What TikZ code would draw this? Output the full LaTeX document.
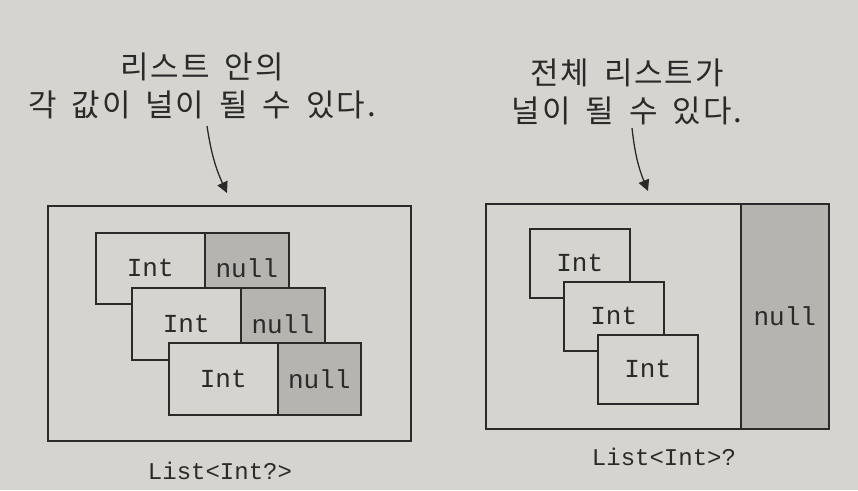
\documentclass[tikz,border=0pt]{standalone}
\usepackage{fontspec}
\newfontfamily\kr[LetterSpace=6,WordSpace=1.7]{Noto Sans CJK KR}
\setmonofont{Liberation Mono}
\usetikzlibrary{arrows.meta}
\definecolor{paper}{HTML}{D6D4CF}
\definecolor{nullgray}{HTML}{B6B4AF}
\definecolor{ink}{HTML}{2A2A2A}
\tikzset{
  box/.style={draw=ink, line width=1.5pt, rectangle, inner sep=0pt, anchor=north west},
  intbox/.style={box, fill=paper, font=\fontsize{26}{26}\selectfont\ttfamily, text=ink},
  nullbox/.style={box, fill=nullgray, font=\fontsize{26}{26}\selectfont\ttfamily, text=ink},
  outer/.style={box, fill=none},
  krlabel/.style={font=\kr\fontsize{31}{38}\selectfont, text=ink, align=center},
  codelabel/.style={font=\fontsize{24}{24}\selectfont\ttfamily, text=ink},
  pointer/.style={draw=ink, line width=1.3pt, -{Triangle[length=11pt,width=11pt]}}
}
\begin{document}
\begin{tikzpicture}[x=1pt,y=-1pt]
\fill[paper] (0,0) rectangle (858,490);
\useasboundingbox (0,0) rectangle (858,490);

% ---------- left panel ----------
\node[outer, minimum width=363pt, minimum height=235pt] (lout) at (47,205) {};
% row 1
\node[intbox, minimum width=109pt, minimum height=71pt] (i1) at (95,232) {Int};
\node[nullbox, minimum width=84pt, minimum height=71pt] (n1) at (204,232) {null};
% row 2
\node[intbox, minimum width=109pt, minimum height=72pt] (i2) at (131,287) {Int};
\node[nullbox, minimum width=84pt, minimum height=72pt] (n2) at (240,287) {null};
% row 3
\node[intbox, minimum width=109pt, minimum height=72pt] (i3) at (168,342) {Int};
\node[nullbox, minimum width=83pt, minimum height=72pt] (n3) at (277,342) {null};

\node[krlabel] (ltxt) at (202,86) {리스트 안의\\각 값이 널이 될 수 있다.};
\node[codelabel] (lcap) at (220,471) {List<Int?>};
\coordinate (la1) at (207,126);
\coordinate (la2) at (227,193);
\draw[pointer] (la1) to[bend right=8] (la2);

% ---------- right panel ----------
\node[outer, minimum width=343pt, minimum height=225pt] (rout) at (485,203) {};
\node[nullbox, minimum width=88pt, minimum height=225pt] (rn) at (740,203) {null};
\node[intbox, minimum width=100pt, minimum height=69pt] (r1) at (529,228) {Int};
\node[intbox, minimum width=100pt, minimum height=69pt] (r2) at (563,281) {Int};
\node[intbox, minimum width=100pt, minimum height=69pt] (r3) at (597,334) {Int};

\node[krlabel] (rtxt) at (627,92) {전체 리스트가\\널이 될 수 있다.};
\node[codelabel] (rcap) at (664,457) {List<Int>?};
\coordinate (ra1) at (632,128);
\coordinate (ra2) at (648,191);
\draw[pointer] (ra1) to[bend right=8] (ra2);
\end{tikzpicture}
\end{document}
